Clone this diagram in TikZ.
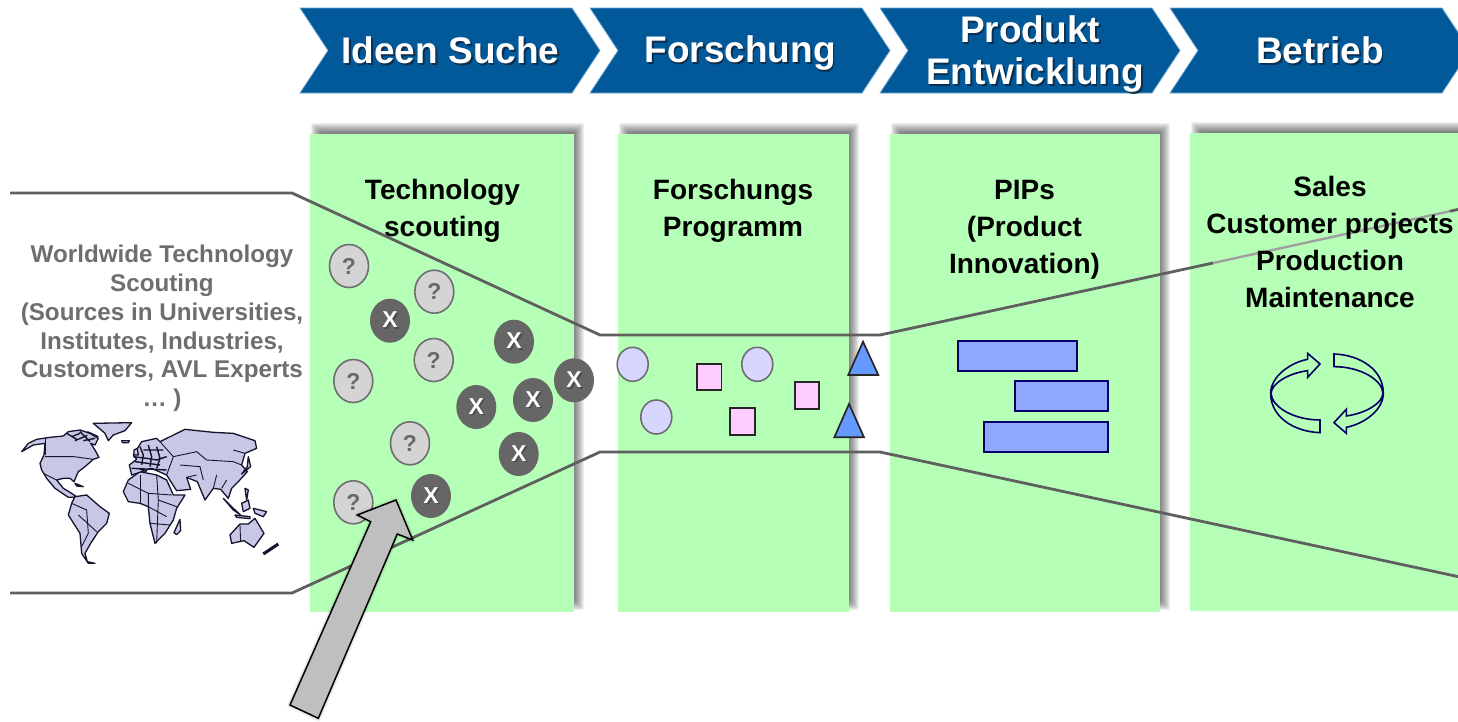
\documentclass[tikz,border=0pt]{standalone}
\usepackage{fontspec}
\usetikzlibrary{shapes.geometric}
\setmainfont{Liberation Sans}
\definecolor{chev}{HTML}{01599A}
\definecolor{chevedge}{HTML}{6FA6CF}
\definecolor{panelgreen}{HTML}{B6FFB6}
\definecolor{funnel}{HTML}{5F5F5F}
\definecolor{greytext}{HTML}{6E6E6E}
\definecolor{hdrshade}{HTML}{0A2F50}
\definecolor{qfill}{HTML}{D4D4D4}
\definecolor{qedge}{HTML}{6E6E6E}
\definecolor{xfill}{HTML}{666666}
\definecolor{lilac}{HTML}{D6D6FF}
\definecolor{pinkbox}{HTML}{FFCCFF}
\definecolor{tri}{HTML}{6699FF}
\definecolor{barfill}{HTML}{8FA7FF}
\definecolor{navy}{HTML}{000066}
\definecolor{mapfill}{HTML}{C8C8E6}
\definecolor{mapline}{HTML}{14142E}
\newcommand\shd[2]{\leavevmode\rlap{\kern1.8pt\raisebox{-1.8pt}{\color{#1}#2}}#2}
\tikzset{
  hdr/.style={font=\fontsize{37}{42}\selectfont\bfseries,text=white,align=center,inner sep=0pt},
  ptitle/.style={font=\fontsize{28}{37}\selectfont\bfseries,text=black,align=center,inner sep=0pt},
  gtext/.style={font=\fontsize{24.2}{28.8}\selectfont\bfseries,text=greytext,align=center,inner sep=0pt},
  chevron/.style={fill=chev,draw=chevedge,line width=.7pt},
  panel/.style={fill=panelgreen,draw=none},
  funnelline/.style={draw=funnel,line width=2.8pt,line join=round},
  qball/.style={ellipse,minimum width=39pt,minimum height=43pt,inner sep=0pt,fill=qfill,draw=qedge,line width=1.6pt,text=greytext!95!black,font=\fontsize{23}{24}\selectfont\bfseries},
  xball/.style={ellipse,minimum width=40pt,minimum height=44pt,inner sep=0pt,fill=xfill,draw=none,text=white,font=\fontsize{23}{24}\selectfont\bfseries},
  lball/.style={ellipse,minimum width=31pt,minimum height=34pt,inner sep=0pt,fill=lilac,draw=qedge,line width=1.6pt},
  pbox/.style={fill=pinkbox,draw=black!85,line width=1.7pt},
  tribox/.style={fill=tri,draw=black!85,line width=1.7pt,line join=miter},
  barbox/.style={fill=barfill,draw=navy,line width=1.7pt},
  cyc/.style={draw=navy,line width=1.6pt,line join=miter},
  mapshape/.style={fill=mapfill,draw=mapline,line width=1.3pt,line join=round},
  mapborder/.style={draw=mapline,line width=.9pt},
  mapdense/.style={draw=mapline,line width=1.4pt,line join=round},
  shade/.style={fill=black,draw=none,fill opacity=.06},
}
\newcommand\panelshade[4]{%
  \foreach \d in {-5,-4,...,5}{
    \fill[shade,rounded corners=2pt] (#1+6-\d,#2-6-\d) rectangle (#3+5+\d,#4-7+\d);
  }}
\begin{document}
\begin{tikzpicture}[x=1pt,y=-1pt]
\useasboundingbox (0,0) rectangle (1458,721);
\clip (0,0) rectangle (1458,721);
\fill[white] (0,0) rectangle (1458,721);

% process chevrons
\path[chevron] (300,8) -- (572,8) -- (600,50.5) -- (572,93) -- (300,93) -- (328,50.5) -- cycle;
\path[chevron] (590,8) -- (862,8) -- (890,50.5) -- (862,93) -- (590,93) -- (618,50.5) -- cycle;
\path[chevron] (880,8) -- (1152,8) -- (1180,50.5) -- (1152,93) -- (880,93) -- (908,50.5) -- cycle;
\path[chevron] (1170,8) -- (1442,8) -- (1470,50.5) -- (1442,93) -- (1170,93) -- (1198,50.5) -- cycle;
\node[hdr] (h1) at (450.5,51) {\shd{hdrshade}{Ideen Suche}};
\node[hdr] (h2) at (740,54) {\shd{hdrshade}{Forschung}};
\node[hdr] (h3) at (1035,55) {\shd{hdrshade}{Produkt}\hspace*{10pt}\\\shd{hdrshade}{Entwicklung}};
\node[hdr] (h4) at (1320,51) {\shd{hdrshade}{Betrieb}};

% panels
\panelshade{310}{134}{574}{612}
\panelshade{618}{134}{849}{612}
\panelshade{890}{134}{1160}{612}
\panelshade{1190}{133}{1470}{611}
\fill[panel] (310,134) rectangle (574,612);
\fill[panel] (618,134) rectangle (849,612);
\fill[panel] (890,134) rectangle (1160,612);
\fill[panel] (1190,133) rectangle (1470,611);

% funnel
\coordinate (ta) at (10,193);
\coordinate (tb) at (292,193);
\coordinate (tc) at (600,335);
\coordinate (td) at (880,335);
\coordinate (te) at (1213,263);
\coordinate (tf) at (1450,211.2);
\coordinate (tg) at (1460,209);
\coordinate (ba) at (10,593);
\coordinate (bb) at (292,593);
\coordinate (bc) at (600,452);
\coordinate (bd) at (880,452);
\coordinate (be) at (1460,577);
\draw[funnelline] (ta) -- (tb) -- (tc) -- (td) -- (te);
\draw[draw=funnel!60,line width=2.4pt] (te) -- (tf);
\draw[funnelline] (tf) -- (tg);
\draw[funnelline] (ba) -- (bb) -- (bc) -- (bd) -- (be);

% titles
\node[ptitle] (t1) at (442.5,210.5) {Technology\\scouting};
\node[ptitle] (t2) at (733,210.5) {Forschungs\\Programm};
\node[ptitle] (t3) at (1024.5,229.5) {PIPs\\(Product\\Innovation)};
\node[ptitle] (t4) at (1330,241.5) {Sales\\Customer projects\\Production\\Maintenance};
\node[gtext] (src) at (162,328.5) {Worldwide Technology\\Scouting\\(Sources in Universities,\\Institutes, Industries,\\Customers, AVL Experts\\… )};

% scouting balls
\node[qball] (q1) at (349,266) {?};
\node[qball] (q2) at (434.3,291.7) {?};
\node[qball] (q3) at (433.7,360) {?};
\node[qball] (q4) at (353.3,381) {?};
\node[qball] (q5) at (410,443.3) {?};
\node[qball] (q6) at (353.3,502.3) {?};
\node[xball] (x1) at (390,320.7) {\shd{black!70}{X}};
\node[xball] (x2) at (514,341.7) {\shd{black!70}{X}};
\node[xball] (x3) at (574,380.3) {\shd{black!70}{X}};
\node[xball] (x4) at (533,400) {\shd{black!70}{X}};
\node[xball] (x5) at (476.3,407) {\shd{black!70}{X}};
\node[xball] (x6) at (518.7,454) {\shd{black!70}{X}};
\node[xball] (x7) at (431,496) {\shd{black!70}{X}};

% research shapes
\node[lball] (l1) at (632.7,364.3) {};
\node[lball] (l2) at (757.3,364.3) {};
\node[lball] (l3) at (656.3,417) {};
\path[pbox] (697,363.7) rectangle (721.5,390.3);
\path[pbox] (795,382.3) rectangle (819.3,409);
\path[pbox] (730.3,408) rectangle (755,434.7);
\path[tribox] (863,341.7) -- (878.3,375) -- (848.3,375) -- cycle;
\path[tribox] (849,404) -- (864,437.3) -- (834.3,437.3) -- cycle;

% gantt bars
\path[barbox] (958.3,341.3) rectangle (1077,371);
\path[barbox] (1015,381.3) rectangle (1107.7,411.3);
\path[barbox] (984,422) rectangle (1107.7,452);

% cycle arrows
\begin{scope}[shift={(1180,120)},x=.3333pt,y=-.3333pt]
\path[cyc] (420,938) .. controls (340,935) and (272,890) .. (272,820)
  .. controls (272,770) and (330,728) .. (383,718) -- (383,700) -- (420,732) -- (383,772) -- (383,752)
  .. controls (325,760) and (275,790) .. (273,820)
  .. controls (275,860) and (340,900) .. (420,900) -- cycle;
\path[cyc] (462,702) .. controls (542,705) and (610,750) .. (610,820)
  .. controls (610,870) and (552,912) .. (499,922) -- (499,940) -- (462,908) -- (499,868) -- (499,888)
  .. controls (557,880) and (607,850) .. (609,820)
  .. controls (607,780) and (542,740) .. (462,740) -- cycle;
\end{scope}

% world map
\begin{scope}[shift={(0,400)},x=.3333pt,y=-.3333pt]
\path[mapshape] (65,155) -- (85,130) -- (110,118) -- (150,112) -- (190,108) -- (205,95) -- (240,90) -- (270,100) -- (295,115) -- (285,135) -- (272,130) -- (285,150) -- (297,172) -- (280,178) -- (255,200) -- (235,215) -- (222,245) -- (210,235) -- (190,235) -- (170,240) -- (190,265) -- (215,280) -- (232,292) -- (205,292) -- (165,265) -- (140,235) -- (125,210) -- (120,190) -- (132,165) -- (135,130) -- (100,135) -- cycle;
\path[mapshape] (280,70) -- (395,68) -- (375,92) -- (340,105) -- (325,122) -- (315,100) -- cycle;
\path[mapshape] (225,290) -- (260,285) -- (300,320) -- (328,340) -- (320,370) -- (295,395) -- (272,430) -- (255,460) -- (262,485) -- (285,490) -- (265,490) -- (245,460) -- (240,400) -- (205,345) -- (215,310) -- cycle;
\path[mapshape] (385,240) -- (420,215) -- (470,225) -- (500,240) -- (520,285) -- (555,285) -- (530,325) -- (520,360) -- (495,400) -- (465,430) -- (450,370) -- (445,320) -- (420,310) -- (385,305) -- (370,275) -- cycle;
\path[mapshape] (400,165) -- (425,125) -- (470,115) -- (480,125) -- (555,88) -- (640,97) -- (700,100) -- (765,122) -- (770,145) -- (735,160) -- (725,195) -- (742,215) -- (715,245) -- (695,265) -- (685,295) -- (662,268) -- (640,265) -- (615,300) -- (592,245) -- (560,232) -- (572,268) -- (530,272) -- (500,225) -- (455,205) -- (395,225) -- (388,195) -- (410,178) -- cycle;
\path[mapshape] (690,405) -- (720,372) -- (745,372) -- (765,355) -- (792,400) -- (762,442) -- (732,422) -- (695,430) -- cycle;
\path[mapshape] (522,398) -- (540,358) -- (542,392) -- (530,404) -- cycle;
\path[mapshape] (670,295) -- (700,325) -- (722,345) -- (700,330) -- cycle;
\path[mapshape] (725,310) -- (745,300) -- (750,325) -- (730,335) -- cycle;
\path[mapshape] (760,325) -- (800,335) -- (790,350) -- (765,340) -- cycle;
\path[mapshape] (705,345) -- (750,350) -- (750,356) -- (710,352) -- cycle;
\path[mapshape] (735,265) -- (745,270) -- (740,300) -- cycle;
\path[mapshape] (745,170) -- (752,200) -- (725,222) -- (742,200) -- cycle;
\path[mapshape] (365,122) -- (388,122) -- (385,128) -- (368,128) -- cycle;
\path[mapshape] (402,150) -- (412,145) -- (415,165) -- (402,165) -- cycle;
\path[mapshape] (225,250) -- (250,260) -- (230,258) -- cycle;
\draw[mapline,line width=3pt] (790,462) -- (835,432);
\draw[mapdense] (215,110) -- (240,100) (225,122) -- (262,106) (250,122) -- (285,115) (240,95) -- (270,125) (200,100) -- (230,118) (262,95) -- (295,110);
\draw[mapdense] (400,170) -- (440,175) -- (470,180) -- (500,170) (420,140) -- (430,165) -- (425,195) (445,135) -- (455,170) -- (450,200) (470,140) -- (480,175) -- (470,205) (405,185) -- (480,195) (430,150) -- (490,150) (415,205) -- (440,215) (395,205) -- (500,210);
\draw[mapborder] (135,170) -- (222,170) -- (280,178);
\draw[mapborder] (130,220) -- (170,240);
\draw[mapborder] (135,115) -- (135,165);
\draw[mapborder] (215,310) -- (260,330) -- (265,400) -- (245,440);
\draw[mapborder] (235,345) -- (290,395);
\draw[mapborder] (385,250) -- (445,280) -- (445,320);
\draw[mapborder] (420,225) -- (420,310);
\draw[mapborder] (470,225) -- (475,300) -- (530,320);
\draw[mapborder] (445,280) -- (515,285);
\draw[mapborder] (450,370) -- (510,375);
\draw[mapborder] (475,300) -- (470,430);
\draw[mapborder] (445,320) -- (500,350);
\draw[mapborder] (520,170) -- (590,155) -- (620,180) -- (700,185) -- (725,195);
\draw[mapborder] (480,125) -- (520,170) -- (500,225);
\draw[mapborder] (540,195) -- (600,200) -- (610,240);
\draw[mapborder] (560,232) -- (590,225);
\draw[mapborder] (640,265) -- (650,225);
\draw[mapborder] (665,265) -- (680,240);
\draw[mapborder] (735,160) -- (700,150);
\draw[mapborder] (720,375) -- (722,425);
\end{scope}

% big arrow
\coordinate (ar1) at (290,705);
\coordinate (ar2) at (318.3,718.3);
\coordinate (ar3) at (397.3,534);
\coordinate (ar4) at (412.7,540);
\coordinate (ar5) at (396,500);
\coordinate (ar6) at (357.3,515);
\coordinate (ar7) at (370.7,521.7);
\foreach \w in {0.5,3,5.5}{
  \path[shade,draw=black,draw opacity=.06,line width=\w pt,line join=round,shift={(3,3)}] (ar1) -- (ar2) -- (ar3) -- (ar4) -- (ar5) -- (ar6) -- (ar7) -- cycle;
}
\draw[fill=black!25,draw=black,line width=1.5pt,line join=miter] (ar1) -- (ar2) -- (ar3) -- (ar4) -- (ar5) -- (ar6) -- (ar7) -- cycle;
\end{tikzpicture}
\end{document}
